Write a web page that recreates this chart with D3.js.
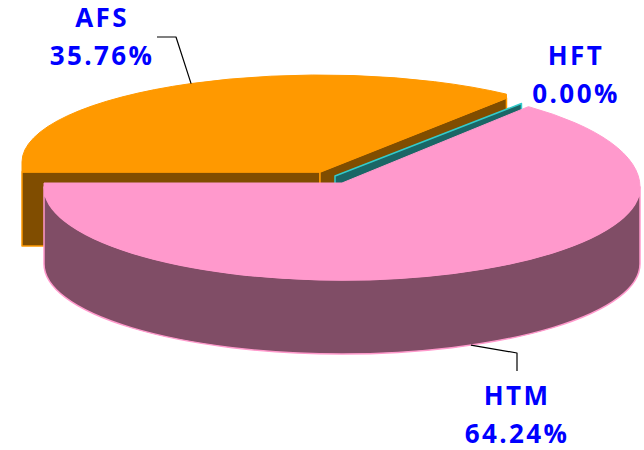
<!DOCTYPE html>
<html>
<head>
<meta charset="utf-8">
<script src="https://cdnjs.cloudflare.com/ajax/libs/d3/7.8.5/d3.min.js"></script>
<style>
  html, body { margin: 0; padding: 0; background: #fff; }
  text { font-family: "Open Sans", sans-serif; font-weight: bold; font-size: 26px; letter-spacing: 2.4px; fill: #0000ff; text-anchor: middle; }
</style>
</head>
<body>
<div id="chart"></div>
<script>
var names = ["AFS", "HFT", "HTM"];
var shares = [35.76, 0.00, 64.24];

var topColors = ["#ff9900", "#33cccc", "#ff99cc"];
var sideColors = ["#804d00", "#1a6666", "#804d66"];

var w = 644, h = 450;
var rx = 298, depth = 74;
// each slice is pulled out of the pie a bit
var centers = [[320, 172], [335, 176], [342, 183]];
var labelPos = [[102, 27], [576, 65], [517, 405]];

var svg = d3.select("#chart").append("svg")
  .attr("width", w)
  .attr("height", h);

var pie = d3.pie().sort(null)
  .startAngle(-Math.PI / 2)
  .endAngle(Math.PI * 1.5);
var slices = pie(shares);

// the rim is not one clean ellipse in the picture, back and front halves differ
function rimPoint(cx, yc, ry, a) {
  return [cx + Math.sin(a) * rx, yc - Math.cos(a) * ry];
}

function rimArc(ry, sweep, p) {
  return "A" + rx + "," + ry + " 0 0 " + sweep + " " + p;
}

function cutWall(i, p) {
  var c = centers[i];
  return "M" + c + "L" + p + "L" + [p[0], p[1] + depth] + "L" + [c[0], c[1] + depth] + "Z";
}

function draw(d, fill, stroke, sw) {
  return svg.append("path")
    .attr("d", d)
    .attr("fill", fill)
    .attr("stroke", stroke)
    .attr("stroke-width", sw)
    .attr("stroke-linejoin", "round");
}

// AFS: back slice, only the two cut faces show
var c0 = centers[0];
var afsEnd = slices[0].endAngle;
var afsLeft = [c0[0] - rx, 162];
var afsRim = rimPoint(c0[0], 162, 87, afsEnd);
var afsCut = [afsRim[0], afsRim[1] + 4];
draw(cutWall(0, [c0[0] - rx, c0[1]]), sideColors[0], topColors[0], 1.5);
draw(cutWall(0, afsCut), sideColors[0], topColors[0], 1.5);
draw("M" + c0 + "L" + [c0[0] - rx, c0[1]] + "L" + afsLeft
    + rimArc(87, 1, afsRim) + "L" + afsCut + "Z", topColors[0], topColors[0], 1);

// HFT is 0% so it is just a cut face
var hftEdge = rimPoint(centers[1][0], centers[1][1], 93, slices[1].endAngle);
draw(cutWall(1, hftEdge), sideColors[1], topColors[1], 1.5);

// HTM: curved wall for the front half, then the top
var c2 = centers[2];
var htmL = [c2[0] - rx, 187], htmR = [c2[0] + rx, 187];
var htmBL = [c2[0] - rx, 264], htmBR = [c2[0] + rx, 264];
var htmRim = rimPoint(c2[0], 187, 103, slices[2].startAngle);
draw("M" + htmR + rimArc(93, 1, htmL) + "L" + htmBL + rimArc(90, 0, htmBR) + "Z",
  sideColors[2], topColors[2], 1.5);
draw("M" + c2 + "L" + [c2[0] - rx, c2[1]] + "L" + htmL
    + rimArc(93, 0, htmR) + rimArc(103, 0, htmRim) + "Z", topColors[2], topColors[2], 1);

// leader lines
var mid0 = (slices[0].startAngle + slices[0].endAngle) / 2;
var mid2 = (slices[2].startAngle + slices[2].endAngle) / 2;
var line = d3.line();
draw(line([rimPoint(c0[0], 162, 87, mid0), [176, 37], [157, 37]]), "none", "#000", 1.2);
draw(line([rimPoint(c2[0], 264, 90, mid2), [517, 353], [517, 371]]), "none", "#000", 1.2);

// labels
names.forEach(function(n, i) {
  var t = svg.append("text").attr("x", labelPos[i][0]).attr("y", labelPos[i][1]);
  t.append("tspan").attr("x", labelPos[i][0]).text(n);
  t.append("tspan").attr("x", labelPos[i][0]).attr("dy", 38).text(shares[i].toFixed(2) + "%");
});
</script>
</body>
</html>
